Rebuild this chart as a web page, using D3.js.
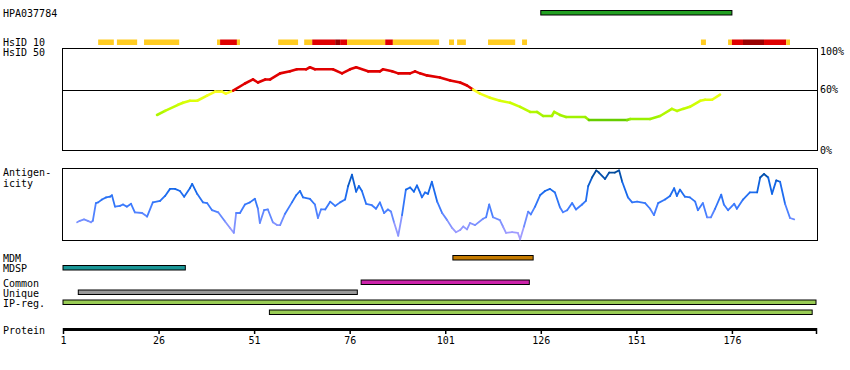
<!DOCTYPE html>
<html>
<head>
<meta charset="utf-8">
<script src="https://cdn.jsdelivr.net/npm/d3@7"></script>
<style>
  body { margin: 0; background: #fff; }
  text { font-family: "DejaVu Sans Mono", monospace; font-size: 10px; fill: #000; }
</style>
</head>
<body>
<div id="chart"></div>
<script>
// protein length and axis ticks
var proteinLength = 198;
var tickLabels = [1, 26, 51, 76, 101, 126, 151, 176];

// antigen fragment
var hpaName = "HPA037784";
var hpaRange = [126, 176];

// HsID 10 segments: start, end, level (0 = some, 1 = high, 2 = highest)
var hsid10 = [
  [10.2, 14.3, 0], [15.1, 20.4, 0], [22.2, 31.4, 0],
  [41.3, 42.1, 0], [42.1, 46.5, 1], [46.5, 47.3, 0],
  [57.3, 62.5, 0], [64.1, 66.2, 0], [66.2, 72.2, 1], [72.2, 73.5, 2],
  [73.5, 75.3, 1], [75.3, 85.3, 0], [85.3, 87.3, 1], [87.3, 99.4, 0],
  [102.0, 103.3, 0], [104.1, 106.4, 0], [112.2, 119.3, 0], [121.1, 122.4, 0],
  [167.9, 169.2, 0], [175.0, 176.0, 0], [176.0, 178.9, 1], [178.9, 184.4, 2],
  [184.4, 190.2, 1], [190.2, 191.2, 0]
];

// HsID 50 identity (%)
var identityPos = [25.6, 27.7, 31.1, 32.4, 34.2, 36.1, 38.7, 40.8, 42.6, 43.6, 45.5,
  48.6, 50.7, 52.0, 53.9, 55.2, 57.8, 60.4, 62.2, 64.6, 65.6, 66.9, 71.6, 74.0, 76.1,
  77.7, 80.8, 83.9, 84.7, 87.1, 88.7, 91.8, 93.1, 94.4, 96.2, 99.6, 102.3, 104.9, 106.7,
  108.3, 110.1, 112.7, 115.3, 118.0, 120.6, 123.2, 125.0, 126.6, 128.9, 129.5, 131.0,
  132.6, 137.6, 138.6, 148.6, 149.4, 154.6, 157.2, 160.3, 161.6, 163.2, 165.0, 167.7,
  169.0, 170.8, 172.9];
var identityPct = [35, 39, 45, 47, 49, 49, 54, 58, 58, 56, 59,
  66, 70, 67, 70, 70, 76, 78, 80, 80, 82, 80, 80, 76, 80,
  82, 78, 78, 80, 78, 76, 76, 78, 76, 74, 72, 69, 67, 64,
  60, 56, 52, 49, 47, 43, 38, 38, 34, 34, 38, 35,
  33, 33, 30, 30, 31, 31, 34, 41, 39, 41, 43, 49,
  50, 50, 55];

// antigenicity profile
var antigenPos = [4.7, 5.4, 6.5, 7.5, 8.3, 8.8, 9.6, 10.2, 11.2, 12.3, 13.3, 13.8, 14.6,
  15.9, 16.7, 17.7, 18.8, 19.8, 21.7, 23.0, 24.5, 26.4, 27.7, 29.0, 30.3, 31.6, 32.7,
  34.2, 34.8, 36.1, 37.6, 38.7, 40.0, 41.6, 43.4, 44.7, 45.7, 46.3, 47.3, 48.6, 49.9,
  51.2, 52.0, 52.5, 53.6, 54.6, 55.9, 57.0, 57.8, 59.1, 60.9, 62.0, 63.0, 63.8, 65.6,
  66.9, 67.7, 68.5, 69.6, 70.9, 72.2, 73.5, 74.8, 75.6, 76.6, 77.7, 78.4, 79.2, 80.3,
  81.8, 82.9, 83.9, 85.0, 86.0, 86.8, 87.6, 88.7, 89.7, 90.7, 91.8, 92.8, 93.6, 94.4,
  94.9, 95.7, 96.5, 97.5, 98.9, 100.2, 101.5, 102.8, 103.8, 104.9, 105.7, 106.7, 107.5,
  108.8, 110.9, 111.7, 112.5, 113.5, 115.3, 116.1, 116.9, 118.5, 120.0, 120.6, 121.6,
  122.7, 123.4, 124.5, 125.8, 127.1, 128.4, 129.7, 131.0, 131.8, 132.9, 134.2, 135.2,
  136.8, 137.8, 138.4, 139.4, 140.5, 141.2, 142.8, 143.9, 145.4, 146.5, 147.3, 148.8,
  149.9, 151.2, 153.3, 154.6, 155.6, 156.7, 158.5, 159.8, 160.9, 161.6, 162.4, 163.7,
  165.0, 166.4, 167.1, 168.4, 169.5, 170.5, 171.6, 173.2, 173.9, 175.0, 176.6, 177.3,
  178.9, 180.7, 182.6, 183.4, 184.4, 185.5, 186.5, 187.6, 188.6, 189.9, 191.2, 192.3];
var antigenVal = [25, 27, 29, 27, 25, 27, 52, 53, 57, 60, 61, 63, 47,
  48, 50, 47, 51, 39, 38, 33, 53, 55, 62, 72, 72, 69, 61,
  73, 79, 65, 53, 52, 42, 39, 26, 17, 10, 38, 38, 50, 53,
  58, 44, 24, 42, 43, 25, 21, 21, 37, 53, 63, 69, 60, 58,
  50, 31, 43, 43, 54, 48, 53, 57, 76, 92, 68, 76, 69, 51,
  49, 44, 53, 38, 43, 40, 25, 6, 35, 71, 74, 68, 77, 67,
  60, 67, 65, 82, 54, 38, 28, 17, 11, 14, 19, 15, 24,
  21, 30, 32, 50, 32, 28, 19, 10, 11, 10, 1, 19,
  40, 36, 47, 63, 69, 72, 67, 46, 39, 42, 52, 43,
  50, 55, 76, 88, 98, 95, 86, 95, 95, 98, 82, 60,
  53, 54, 52, 44, 35, 52, 57, 62, 73, 62, 71, 61,
  60, 54, 42, 52, 32, 32, 44, 64, 50, 42, 51, 44,
  57, 67, 67, 88, 93, 88, 65, 84, 82, 51, 31, 29];

// feature tracks
var trackNames = ["MDM", "MDSP", "Common", "Unique", "IP-reg.", ""];
var trackStart = [103, 1, 79, 5, 1, 55];
var trackEnd = [124, 33, 123, 78, 198, 197];

// styles
var trackColors = ["#c47a00", "#1a9696", "#cc22aa", "#999999", "#99cc55", "#99cc55"];
var trackY = [255.5, 265.5, 280, 290, 300, 310];
var hsidColors = ["#ffcc22", "#e00000", "#990000"];

var width = 850, height = 370;
var svg = d3.select('#chart').append('svg')
  .attr('width', width)
  .attr('height', height);

var x = d3.scaleLinear()
  .domain([1, proteinLength])
  .range([63, 816]);

var left = 62.5, right = 817.5;

// header
svg.append('text').attr('x', 3).attr('y', 17).text(hpaName);
svg.append('rect')
  .attr('x', x(hpaRange[0]))
  .attr('y', 10.5)
  .attr('width', x(hpaRange[1]) - x(hpaRange[0]))
  .attr('height', 4.5)
  .attr('fill', '#22a022')
  .attr('stroke', '#000')
  .attr('stroke-width', 1);

// HsID 10
svg.append('text').attr('x', 3).attr('y', 46).text('HsID 10');
svg.append('text').attr('x', 3).attr('y', 56).text('HsID 50');
svg.selectAll('.hsid')
  .data(hsid10)
  .enter()
  .append('rect')
  .attr('class', 'hsid')
  .attr('x', d => x(d[0]))
  .attr('y', 39.5)
  .attr('width', d => x(d[1]) - x(d[0]))
  .attr('height', 5.5)
  .attr('fill', d => hsidColors[d[2]]);

// identity box
var yId = d3.scaleLinear().domain([0, 100]).range([150.5, 49]);
svg.append('rect')
  .attr('x', left).attr('y', 48.5)
  .attr('width', right - left).attr('height', 102)
  .attr('fill', 'none').attr('stroke', '#000');
svg.append('line')
  .attr('x1', left).attr('x2', right)
  .attr('y1', Math.round(yId(60)) + 0.5).attr('y2', Math.round(yId(60)) + 0.5)
  .attr('stroke', '#000');
[[100, '100%'], [60, '60%'], [0, '0%']].forEach(function(t) {
  svg.append('text')
    .attr('x', 820)
    .attr('y', Math.max(yId(t[0]) + 3.5, 55))
    .text(t[1]);
});

var idColor = d3.scaleLinear()
  .domain([30, 31, 45, 59])
  .range(['#66cc00', '#99f000', '#ccff00', '#ffff22'])
  .clamp(true);

var idPoints = identityPos.map((p, i) => [p, identityPct[i]]);
svg.append('g').selectAll('line')
  .data(d3.pairs(idPoints))
  .enter()
  .append('line')
  .attr('x1', d => x(d[0][0]))
  .attr('y1', d => yId(d[0][1]))
  .attr('x2', d => x(d[1][0]))
  .attr('y2', d => yId(d[1][1]))
  .attr('stroke', d => {
    var v = (d[0][1] + d[1][1]) / 2;
    return v >= 60 ? '#e00000' : idColor(v);
  })
  .attr('stroke-width', 2.6)
  .attr('stroke-linecap', 'round');

// antigenicity
svg.append('text').attr('x', 3).attr('y', 176).text('Antigen-');
svg.append('text').attr('x', 3).attr('y', 187).text('icity');
svg.append('rect')
  .attr('x', left).attr('y', 168.5)
  .attr('width', right - left).attr('height', 72)
  .attr('fill', 'none').attr('stroke', '#000');

var yAg = d3.scaleLinear().domain([0, 100]).range([240, 169]);
var agColor = d3.scaleLinear()
  .domain([0, 20, 45, 75, 96])
  .range(['#b4a2ff', '#8a96ff', '#3f7cff', '#1166e8', '#004a99'])
  .clamp(true);

var agPoints = antigenPos.map((p, i) => [p, antigenVal[i]]);
svg.append('g').selectAll('line')
  .data(d3.pairs(agPoints))
  .enter()
  .append('line')
  .attr('x1', d => x(d[0][0]))
  .attr('y1', d => yAg(d[0][1]))
  .attr('x2', d => x(d[1][0]))
  .attr('y2', d => yAg(d[1][1]))
  .attr('stroke', d => agColor((d[0][1] + d[1][1]) / 2))
  .attr('stroke-width', 1.8)
  .attr('stroke-linecap', 'round');

// tracks
var labelY = [262, 272, 287, 297, 307];
trackNames.forEach(function(n, i) {
  if (n) svg.append('text').attr('x', 3).attr('y', labelY[i]).text(n);
});
svg.selectAll('.track')
  .data(trackStart)
  .enter()
  .append('rect')
  .attr('class', 'track')
  .attr('x', (d, i) => x(d))
  .attr('y', (d, i) => trackY[i])
  .attr('width', (d, i) => x(trackEnd[i]) - x(d))
  .attr('height', 4.5)
  .attr('fill', (d, i) => trackColors[i])
  .attr('stroke', '#000')
  .attr('stroke-width', 1);

// protein axis
svg.append('text').attr('x', 3).attr('y', 334).text('Protein');
var xAxis = d3.axisBottom(x)
  .tickValues(tickLabels.concat([proteinLength]))
  .tickFormat(d => d === proteinLength ? '' : d)
  .tickSize(5)
  .tickSizeOuter(0);

var axisG = svg.append('g')
  .attr('class', 'x axis')
  .attr('transform', 'translate(0,329)')
  .call(xAxis);
axisG.select('.domain').attr('stroke-width', 3);
axisG.selectAll('.tick line').attr('stroke-width', 1.5).attr('y1', -1);
axisG.selectAll('.tick text')
  .attr('y', 8)
  .style('font-family', '"DejaVu Sans Mono", monospace')
  .style('font-size', '10px');
</script>
</body>
</html>
